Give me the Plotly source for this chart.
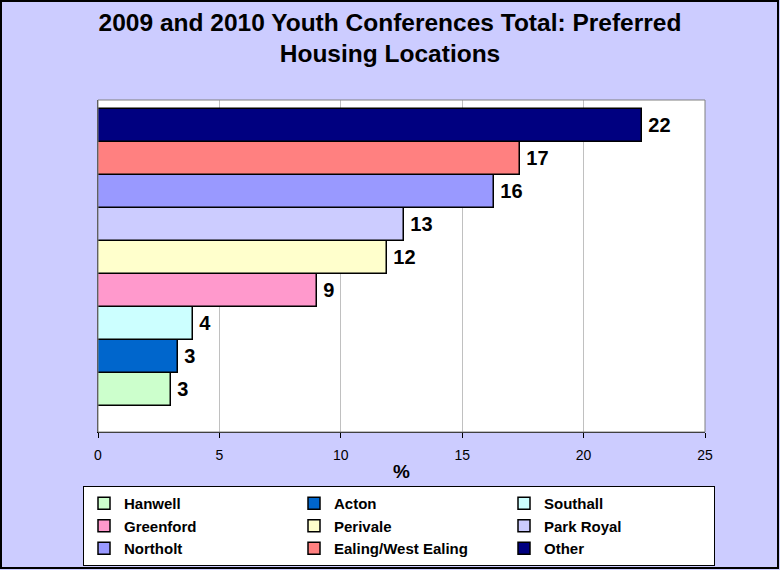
import plotly.graph_objects as go

# Preferred housing locations, bottom bar first (also the legend order)
locations = ["Hanwell", "Acton", "Southall", "Greenford", "Perivale",
             "Park Royal", "Northolt", "Ealing/West Ealing", "Other"]
percent = [3.0, 3.3, 3.9, 9.0, 11.9, 12.6, 16.3, 17.4, 22.4]
colors = ["#CCFFCC", "#0066CC", "#CCFFFF", "#FF99CC", "#FFFFCC",
          "#CCCCFF", "#9999FF", "#FF8080", "#000080"]
x_ticks = [0, 5, 10, 15, 20, 25]

W, H = 780, 570
ML, MR, MT, MB = 98, 75, 100, 138
PW, PH = W - ML - MR, H - MT - MB
FONT = "Liberation Sans, Arial, sans-serif"

fig = go.Figure()
for i, (name, val, col) in enumerate(zip(locations, percent, colors)):
    fig.add_trace(go.Bar(
        x=[val], y=[i], name=name, orientation="h",
        marker=dict(color=col, line=dict(color="black", width=1.5)),
        texttemplate="\u2009%{x:.0f}", textposition="outside",
        textfont=dict(family=FONT, size=20, color="black", weight="bold"),
        cliponaxis=False, width=1.0,
    ))

def px_x(p):
    return (p - ML) / PW

def px_y(p):
    return (H - MB - p) / PH

fig.update_layout(
    width=W, height=H,
    margin=dict(l=ML, r=MR, t=MT, b=MB, autoexpand=False),
    paper_bgcolor="#CCCCFF", plot_bgcolor="white",
    barmode="overlay", bargap=0,
    font=dict(family=FONT, color="black"),
    title=dict(
        text="2009 and 2010 Youth Conferences Total: Preferred<br>Housing Locations",
        x=0.5, xanchor="center", y=1 - 30.5 / H, yanchor="middle",
        font=dict(family=FONT, size=24.5, color="black", weight="bold"),
    ),
    xaxis=dict(
        range=[0, 25], tickvals=x_ticks, ticks="outside", ticklen=5,
        tickcolor="black", showline=True, linecolor="black", linewidth=1,
        showgrid=True, gridcolor="#C0C0C0", gridwidth=1, zeroline=False,
        tickfont=dict(family=FONT, size=14, color="black"),
        ticklabelstandoff=5,
        title=dict(text="%", standoff=2,
                   font=dict(family=FONT, size=19, color="black", weight="bold")),
    ),
    yaxis=dict(
        range=[-1.29, 8.77], showticklabels=False, ticks="", showgrid=False,
        zeroline=False, showline=True, linecolor="#404040", linewidth=1,
    ),
    legend=dict(
        orientation="h", xref="paper", yref="paper",
        x=px_x(83), xanchor="left", y=px_y(486), yanchor="top",
        bgcolor="white", bordercolor="black", borderwidth=1,
        entrywidth=165, traceorder="normal",
        font=dict(family=FONT, size=15, color="black", weight="bold"),
        itemclick=False,
    ),
    shapes=[
        # plot area frame
        dict(type="rect", xref="paper", yref="paper", x0=0, x1=1, y0=0, y1=1,
             line=dict(color="#808080", width=1), layer="above"),
        # outer chart border
        dict(type="rect", xref="paper", yref="paper",
             x0=px_x(1), x1=px_x(W - 2), y0=px_y(1), y1=px_y(H - 2),
             line=dict(color="black", width=2)),
    ],
)

fig.write_html("out.html")
